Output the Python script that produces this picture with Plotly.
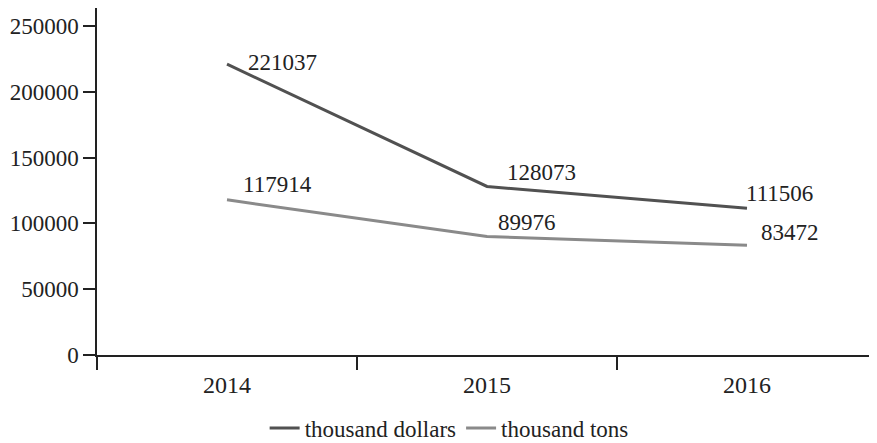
import plotly.graph_objects as go

years = ["2014", "2015", "2016"]
dollars = [221037, 128073, 111506]
tons = [117914, 89976, 83472]
y_ticks = [0, 50000, 100000, 150000, 200000, 250000]

series_names = ["thousand dollars", "thousand tons"]
series_colors = ["#515151", "#8a8a8a"]

# label offsets (px) relative to each point: (xshift, yshift)
dollar_label_offsets = [(19, 2), (18, 14), (-3, 15)]
ton_label_offsets = [(14, 15), (9, 14), (12, 13)]

FONT = "Liberation Serif"
TXT = "#222222"

fig = go.Figure()
for name, vals, col in zip(series_names, [dollars, tons], series_colors):
    fig.add_trace(go.Scatter(x=years, y=vals, mode="lines", name=name,
                             line=dict(color=col, width=3)))

annotations = []
for vals, offs in [(dollars, dollar_label_offsets), (tons, ton_label_offsets)]:
    for i, (v, (dx, dy)) in enumerate(zip(vals, offs)):
        annotations.append(dict(x=i, y=v, xref="x", yref="y", text=str(v),
                                showarrow=False,
                                xanchor="left", yanchor="middle",
                                xshift=dx, yshift=dy,
                                font=dict(family=FONT, size=23, color=TXT)))

fig.update_layout(
    width=877, height=443,
    margin=dict(l=89, r=8, t=0, b=96, autoexpand=False),
    paper_bgcolor="white", plot_bgcolor="white",
    font=dict(family=FONT, size=24, color=TXT),
    showlegend=True,
    legend=dict(orientation="h", x=0.503, xanchor="center", xref="container",
                y=0.052, yanchor="middle", yref="container",
                font=dict(family=FONT, size=23, color=TXT),
                itemwidth=30, tracegroupgap=0),
    annotations=annotations,
    xaxis=dict(type="category", range=[-0.5, 2.5], showgrid=False,
               showline=True, linecolor="#222222", linewidth=1.5,
               ticks="outside", tickson="boundaries", ticklen=13,
               tickcolor="#222222", tickwidth=1.5, zeroline=False,
               automargin=False, ticklabelstandoff=7,
               tickfont=dict(family=FONT, size=24, color=TXT)),
    yaxis=dict(range=[0, 263700], tickvals=y_ticks,
               ticktext=[str(t) for t in y_ticks], showgrid=False,
               showline=True, linecolor="#222222", linewidth=1.5,
               ticks="outside", ticklen=12, tickcolor="#222222", tickwidth=1.5,
               zeroline=False, automargin=False,
               tickfont=dict(family=FONT, size=23, color=TXT)),
)

fig.write_html("out.html")
